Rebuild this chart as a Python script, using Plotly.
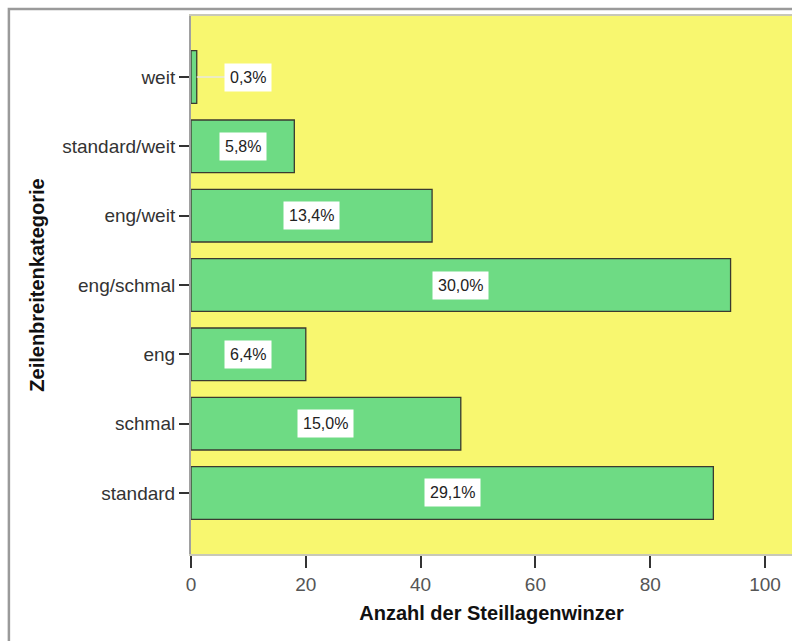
import plotly.graph_objects as go

categories = ["standard", "schmal", "eng", "eng/schmal", "eng/weit", "standard/weit", "weit"]
counts = [91, 47, 20, 94, 42, 18, 1]
percent_labels = ["29,1%", "15,0%", "6,4%", "30,0%", "13,4%", "5,8%", "0,3%"]

YELLOW = "#F8F76F"
GREEN = "#6EDB84"
FONT = "Liberation Sans, Arial"

fig = go.Figure()
fig.add_trace(go.Bar(
    y=categories,
    x=counts,
    orientation="h",
    width=0.76,
    marker=dict(color=GREEN, line=dict(color="#3A3A30", width=1.3)),
    hoverinfo="skip",
))

# value labels: inside the bar, or beside it when the bar is too short
for cat, val, lab in zip(categories, counts, percent_labels):
    if val < 5:
        lx = val + 9
        fig.add_shape(type="line", x0=val, x1=lx - 4, y0=cat, y1=cat,
                      line=dict(color="#E8E8E0", width=1.5))
    else:
        lx = val / 2
    fig.add_annotation(x=lx, y=cat, text=lab, showarrow=False,
                       bgcolor="white", borderpad=5,
                       font=dict(family=FONT, size=16, color="#222"))

# outer frame
fig.add_shape(type="rect", xref="paper", yref="paper",
              x0=-0.303, x1=1.2, y0=-0.4, y1=1.013,
              line=dict(color="#9A9A9A", width=2.5), layer="below")

fig.update_layout(
    width=792, height=641,
    margin=dict(l=191, r=0, t=16, b=87),
    plot_bgcolor=YELLOW,
    paper_bgcolor="white",
    showlegend=False,
    font=dict(family=FONT, size=19, color="#333"),
    xaxis=dict(
        range=[0, 104.7],
        tickvals=[0, 20, 40, 60, 80, 100],
        ticks="outside", ticklen=12, tickwidth=1.5, tickcolor="#333",
        tickfont=dict(size=19, color="#555"),
        showgrid=False, zeroline=False,
        showline=True, linecolor="#C8C8B8", linewidth=1.5, mirror=True,
        title=dict(text="<b>Anzahl der Steillagenwinzer</b>",
                   font=dict(size=20, color="#111"), standoff=12),
    ),
    yaxis=dict(
        categoryorder="array", categoryarray=categories,
        range=[-0.88, 6.88],
        ticks="outside", ticklen=10, tickwidth=1.5, tickcolor="#333",
        tickfont=dict(size=19, color="#333"),
        showgrid=False, zeroline=False,
        showline=True, linecolor="#A0A0A0", linewidth=2,
        title=dict(text="<b>Zeilenbreitenkategorie</b>",
                   font=dict(size=20, color="#111"), standoff=12),
    ),
)

# drop the default page margin so the figure sits at the window corner
fig.write_html("out.html",
               config={"displayModeBar": False},
               post_script="document.body.style.margin='0';document.body.style.overflow='hidden';")
